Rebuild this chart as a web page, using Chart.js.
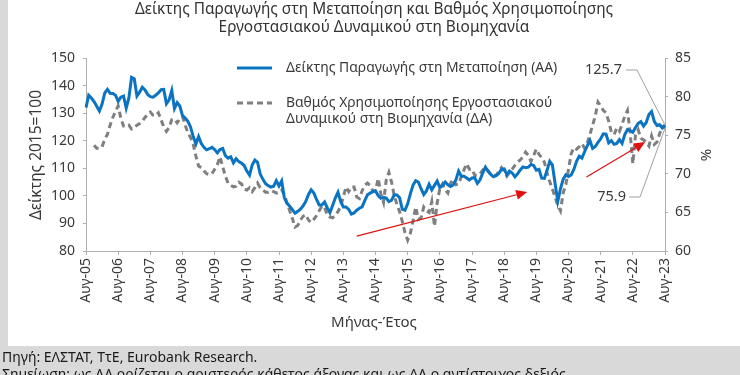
<!DOCTYPE html>
<html>
<head>
<meta charset="utf-8">
<script src="https://cdn.jsdelivr.net/npm/chart.js@4.4.1/dist/chart.umd.min.js"></script>
<style>
html,body{margin:0;padding:0;background:#fff;}
#wrap{width:740px;height:375px;}
</style>
</head>
<body>
<div id="wrap"><canvas id="c" width="740" height="375"></canvas></div>
<script>
// ---- DATA ----
const monthNames = ['Ιαν','Φεβ','Μαρ','Απρ','Μαϊ','Ιουν','Ιουλ','Αυγ','Σεπ','Οκτ','Νοε','Δεκ'];
// monthly categories Aug-2005 .. Aug-2023
const categories = [];
for (let k = 0; k < 217; k++) {
  const m = (7 + k) % 12, y = 2005 + Math.floor((7 + k) / 12);
  categories.push(monthNames[m] + '-' + String(y).slice(2));
}
const seriesNames = ['Δείκτης Παραγωγής στη Μεταποίηση (ΑΑ)', 'Βαθμός Χρησιμοποίησης Εργοστασιακού|Δυναμικού στη Βιομηχανία (ΔΑ)'];
// Industrial production index, manufacturing (2015=100), left axis
const productionIndex = [
132,136.5,135.5,134.2,132.5,130.8,133.3,137.3,138.6,137.2,137.1,136.5,
134.3,135.8,136.2,131.8,135.5,143,142.5,136.2,137.6,139.4,138.4,136.8,
136,135.8,136.5,137.3,138.5,138.6,133.4,134.8,138.2,131.7,133.8,132.6,
129.1,128.2,127,125,121.5,118.8,121.5,119,117.6,116.7,117.1,117.6,
116.8,115.6,116.8,117.2,114.6,113.7,114.2,112,113.5,112.4,111.9,111,
109,107.5,111.2,113,112.2,107.9,106,104.4,103.7,103.2,103.5,105.5,
103.6,105.4,99.3,97.3,96.2,95,93.7,94.4,95.2,96.4,98,100.5,
102.2,101,98.7,96.7,96.7,97.8,95.7,93.9,96.5,99.2,101.3,98,
96,96,95.1,93.4,93.8,94.8,95.5,96,98.3,100.4,101,101.5,
101.8,100.1,99.1,99.5,99.2,97.9,98.4,100.4,100.3,99.3,95.1,94.8,
97.1,100.7,103.9,105.5,105,102.6,100.5,101.8,104.2,102.2,103.8,105.4,
103,103.8,105,104,103.4,104,105.8,109,107.2,107.1,106.5,105.8,
106.5,106.6,104.5,105.8,108.3,110.4,108.9,107.8,106.9,107.3,108.1,109.7,
109.8,107.7,109,108.3,106.9,108,109.4,110.5,110.2,110.4,111.4,111,
109.3,109.6,106.4,106.3,109.3,112.5,111.2,104.5,98,102.5,106,107.6,
107,107.6,109.6,112.5,114.4,113.7,116,118.1,120.1,117.2,117.9,119.4,
120.7,122.5,122.4,119.2,120,118.7,119,120.4,119,122.2,124.1,123.6,
123.1,124.8,126.3,126.9,125.3,126.6,129.5,130.6,127,125.5,125.8,124.6,
125.7
];
// Capacity utilisation in industry (%), right axis
const capacityUtil = [
null,null,null,73.7,73.3,73.3,73.5,74.5,75.1,76.3,77.3,78.1,
78.8,77.2,76.2,76.1,76.3,75.8,76,76.3,76.5,76.8,77.3,77.7,
78,77.6,77.5,77.9,77,76.1,75.5,76,77,77.1,76.6,77.1,
77.4,76.3,75.3,74.7,73.8,72.3,71,70.8,70.4,70,69.9,70,
70.6,71.2,72.2,70.9,69.7,68.8,68.5,68.3,68.4,68.9,68.7,68,
67.9,68.2,67.7,68.2,68.8,68.2,67.9,67.6,67.6,67.8,67.7,67.5,
67.6,67.9,67.3,66.2,65.2,64.2,63.1,63.3,64,64.5,64.7,64,
63.7,64.1,64.6,65.2,65.8,65.7,64.6,64.4,64.3,64.6,65.1,65.8,
67,68.3,67.7,68.3,68.3,67,66.8,67.8,68.5,68.8,68.5,67.8,
67.8,69.4,67.4,66.3,69.2,70.2,68.9,67.2,66,65.1,63.8,62.4,
61.4,62.3,63.9,65.7,64.1,64.3,65.7,65.2,65,66.4,63.2,66.2,
68.1,68.7,67.9,67.5,68.8,69.3,68.6,68.7,69.6,70.5,71.3,70.6,
70.6,69.8,69.8,70,70.5,70.8,70.4,69.9,69.8,69.8,70.3,70.8,
70.3,69.7,70.2,70.6,71.1,71.5,71.8,72.2,72.8,72.4,71.6,72.4,
73.2,72.5,72.1,71.5,70.1,69,68,67,65.9,65.2,67.5,68.6,
70.6,72.6,73.4,73.2,73.5,73.9,73.3,74,75.1,76.3,77.5,79.3,
78.8,78.2,77.9,76.8,75.4,75.1,75.9,75.5,76.4,77.5,78.2,75.3,
71.3,75,75.7,74.6,74.4,74.1,73.6,74.9,73.8,74.1,75.2,76.1,
75.9
];
const leftTicks = [80, 150, 10];   // min, max, step
const rightTicks = [60, 85, 5];
// trend arrows [startIndex, startValue(left axis), endIndex, endValue]
const arrows = [[101, 85.4, 164.6, 101.4], [186.7, 106.8, 208.6, 119.5]];

const BLUE = '#0a74c2', GREY = '#7f7f7f', TXT = '#3a3a3a', AX = '#b0b0b0';
const FONT = '"Noto Sans", "DejaVu Sans", sans-serif';

const deco = {
  id: 'deco',
  beforeDraw(chart) {
    const c = chart.ctx;
    c.save();
    c.fillStyle = '#ffffff'; c.fillRect(0, 0, 740, 375);
    c.fillStyle = '#d9d9d9';
    c.fillRect(0, 0, 8, 375);
    c.fillRect(0, 346, 740, 29);
    c.restore();
  },
  afterDraw(chart) {
    const c = chart.ctx;
    const xs = chart.scales.x, yl = chart.scales.y;
    c.save();
    // title
    c.fillStyle = '#333';
    c.font = '15.4px ' + FONT;
    c.textAlign = 'center'; c.textBaseline = 'middle';
    c.fillText('Δείκτης Παραγωγής στη Μεταποίηση και Βαθμός Χρησιμοποίησης', 374, 10);
    c.fillText('Εργοστασιακού Δυναμικού στη Βιομηχανία', 374, 28);
    // axis titles
    c.fillStyle = TXT;
    c.font = '15px ' + FONT;
    c.fillText('Μήνας-Έτος', 374, 323);
    c.save(); c.translate(37, 155); c.rotate(-Math.PI / 2);
    c.font = '15.5px ' + FONT;
    c.fillText('Δείκτης 2015=100', 0, 0); c.restore();
    c.save(); c.translate(707, 155); c.rotate(-Math.PI / 2);
    c.fillText('%', 0, 0); c.restore();
    // legend
    const ds = chart.data.datasets;
    c.font = '13.9px ' + FONT;
    c.textAlign = 'left';
    c.lineWidth = 3;
    c.strokeStyle = ds[0].borderColor; c.setLineDash([]);
    c.beginPath(); c.moveTo(237, 68); c.lineTo(272, 68); c.stroke();
    c.fillText(ds[0].label, 286, 68);
    c.strokeStyle = ds[1].borderColor; c.setLineDash(ds[1].borderDash);
    c.beginPath(); c.moveTo(237, 103); c.lineTo(272, 103); c.stroke();
    c.setLineDash([]);
    const parts = seriesNames[1].split('|');
    c.fillText(parts[0], 286, 103);
    c.fillText(parts[1], 286, 119);
    // arrows
    c.strokeStyle = '#e01010'; c.fillStyle = '#e01010'; c.lineWidth = 1.2;
    arrows.forEach(a => {
      const x1 = xs.getPixelForValue(a[0]), y1 = yl.getPixelForValue(a[1]);
      const x2 = xs.getPixelForValue(a[2]), y2 = yl.getPixelForValue(a[3]);
      const ang = Math.atan2(y2 - y1, x2 - x1);
      const hl = 11, hw = 5;
      const bx = x2 - hl * Math.cos(ang), by = y2 - hl * Math.sin(ang);
      c.beginPath(); c.moveTo(x1, y1); c.lineTo(bx, by); c.stroke();
      c.beginPath(); c.moveTo(x2, y2);
      c.lineTo(bx + hw * Math.sin(ang), by - hw * Math.cos(ang));
      c.lineTo(bx - hw * Math.sin(ang), by + hw * Math.cos(ang));
      c.closePath(); c.fill();
    });
    // last-value callouts
    const last = productionIndex.length - 1;
    const p0 = chart.getDatasetMeta(0).data[last];
    const p1 = chart.getDatasetMeta(1).data[last];
    c.strokeStyle = '#a0a0a0'; c.lineWidth = 1;
    c.beginPath(); c.moveTo(p0.x - 39, 70); c.lineTo(p0.x - 28, 70); c.lineTo(p0.x, p0.y); c.stroke();
    c.beginPath(); c.moveTo(p1.x - 36, 197); c.lineTo(p1.x - 25, 197); c.lineTo(p1.x, p1.y); c.stroke();
    c.fillStyle = TXT; c.font = '14.5px ' + FONT; c.textAlign = 'right'; c.textBaseline = 'middle';
    c.fillText(productionIndex[last].toFixed(1), p0.x - 43, 70);
    c.fillText(capacityUtil[last].toFixed(1), p1.x - 39, 197);
    // footer
    c.fillStyle = '#1a1a1a'; c.font = '14px ' + FONT; c.textAlign = 'left'; c.textBaseline = 'middle';
    c.fillText('Πηγή: ΕΛΣΤΑΤ, ΤτΕ, Eurobank Research.', 2, 358);
    c.textBaseline = 'top';
    c.fillText('Σημείωση: ως ΑΑ ορίζεται ο αριστερός κάθετος άξονας και ως ΔΑ ο αντίστοιχος δεξιός.', 2, 368);
    c.restore();
  }
};

new Chart(document.getElementById('c'), {
  type: 'line',
  data: {
    labels: categories,
    datasets: [
      { label: seriesNames[0], data: productionIndex, yAxisID: 'y', borderColor: BLUE,
        borderWidth: 3, pointRadius: 0, tension: 0, fill: false },
      { label: seriesNames[1].replace('|', ' '), data: capacityUtil, yAxisID: 'y1', borderColor: GREY,
        borderWidth: 3, borderDash: [6, 4], pointRadius: 0, tension: 0, fill: false, spanGaps: false }
    ]
  },
  options: {
    responsive: false, animation: false, devicePixelRatio: 1,
    layout: { padding: { top: 58, left: 0, right: 0, bottom: 0 } },
    plugins: { legend: { display: false }, title: { display: false }, tooltip: { enabled: false } },
    scales: {
      x: {
        type: 'category', offset: false,
        border: { color: AX, width: 1 },
        grid: { drawOnChartArea: false, drawTicks: true, tickLength: 4,
                color: ctx => (ctx.index % 12 === 0 ? AX : 'rgba(0,0,0,0)') },
        ticks: { autoSkip: false, maxRotation: 90, minRotation: 90, padding: 3,
                 color: TXT, font: { size: 14, family: FONT },
                 callback: (v, i) => (i % 12 === 0 ? categories[i] : '') },
        afterFit: s => { s.height = 124; }
      },
      y: {
        position: 'left', min: leftTicks[0], max: leftTicks[1],
        border: { color: AX },
        grid: { drawOnChartArea: false, tickLength: 3, color: AX },
        ticks: { stepSize: leftTicks[2], padding: 8, color: TXT, font: { size: 14, family: FONT } },
        afterFit: s => { s.width = 86; }
      },
      y1: {
        position: 'right', min: rightTicks[0], max: rightTicks[1],
        border: { color: AX },
        grid: { drawOnChartArea: false, tickLength: 3, color: AX },
        ticks: { stepSize: rightTicks[2], padding: 7, color: TXT, font: { size: 14, family: FONT } },
        afterFit: s => { s.width = 75; }
      }
    }
  },
  plugins: [deco]
});
</script>
</body>
</html>
